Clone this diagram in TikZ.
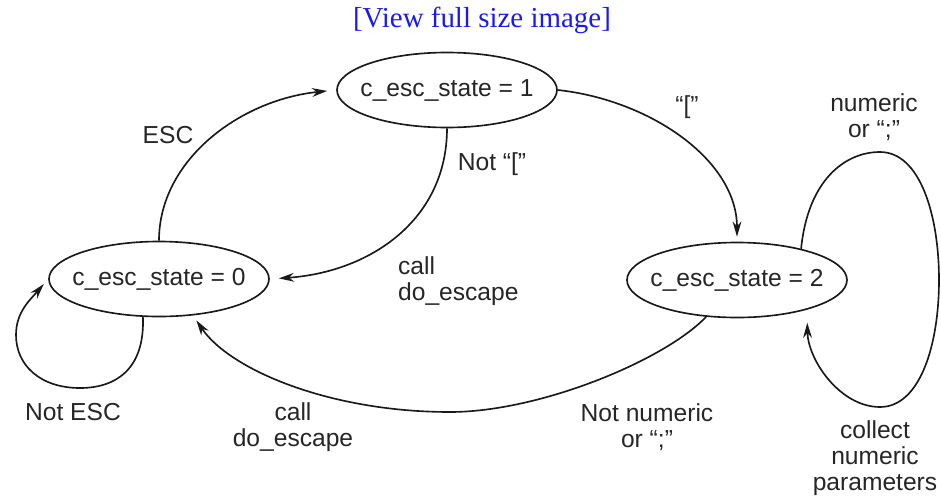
\documentclass[tikz,border=0pt]{standalone}
\usepackage{fontspec}
\setmainfont{Liberation Sans}
\newfontfamily\headfont{Liberation Serif}
\usetikzlibrary{shapes.geometric,arrows.meta}
\definecolor{linkblue}{RGB}{25,25,240}
\tikzset{
  state/.style={ellipse, draw=black!90, line width=1.4pt, minimum width=6.6cm,
    minimum height=2.25cm, inner xsep=-1cm, inner ysep=0pt,
    font=\fontsize{21}{23}\selectfont, text=black!85},
  trans/.style={draw=black!90, line width=1.4pt, -{Stealth[length=13pt,width=7.5pt]}},
  lbl/.style={align=center, font=\fontsize{21}{22.5}\selectfont, text=black!85},
}
\begin{document}
\begin{tikzpicture}[x=0.03cm,y=-0.03cm]
  \useasboundingbox (0,0) rectangle (941,495);
  % Link line on top
  \node[font=\headfont\fontsize{24.7}{28}\selectfont, text=linkblue] (link) at (482,20) {[View full size image]};
  % States
  \node[state] (s0) at (159,279) {c\_esc\_state = 0};
  \node[state] (s1) at (447,90) {c\_esc\_state = 1};
  \node[state] (s2) at (737,280) {c\_esc\_state = 2};
  % ESC: state 0 to state 1
  \draw[trans, shorten >=0.27cm] (s0.north) .. controls (159,160) and (240,100) .. (s1.west);
  \node[lbl] (esc) at (168,135) {ESC};
  % Not [ : back to state 0
  \draw[trans, shorten >=0.27cm] (s1.south) .. controls (447,220) and (370,272) .. (s0.east);
  \node[lbl] (notbr) at (492,164) {Not “[”};
  \node[lbl, align=left, anchor=west] (call1) at (394,281) {call\\do\_escape};
  % [ : state 1 to state 2
  \draw[trans, shorten >=0.15cm] (s1.east) .. controls (650,100) and (737,160) .. (s2.north);
  \node[lbl] (br) at (687,107) {“[”};
  % Loop on state 2
  \draw[trans, shorten >=0.39cm] (s2.26) .. controls (808,180) and (845,152) .. (880,152)
    .. controls (920,152) and (939,215) .. (939,280)
    .. controls (939,345) and (920,407) .. (880,407)
    .. controls (840,407) and (808,360) .. (s2.-23);
  \node[lbl] (num) at (874,117) {numeric\\or “;”};
  \node[lbl] (collect) at (875,458) {collect\\numeric\\parameters};
  % Not numeric: state 2 back to state 0
  \draw[trans, shorten >=0.18cm] (s2.-130) .. controls (665,360) and (540,412) .. (450,412)
    .. controls (330,412) and (230,370) .. (s0.-47);
  \node[lbl] (call2) at (293,427) {call\\do\_escape};
  \node[lbl] (notnum) at (647,427) {Not numeric\\or “;”};
  % Loop on state 0
  \draw[trans, shorten >=0.2cm] (s0.-113) .. controls (145,370) and (115,388) .. (80,388)
    .. controls (40,388) and (16,365) .. (16,335)
    .. controls (16,312) and (30,300) .. (s0.west);
  \node[lbl] (notesc) at (73,412) {Not ESC};
\end{tikzpicture}
\end{document}
